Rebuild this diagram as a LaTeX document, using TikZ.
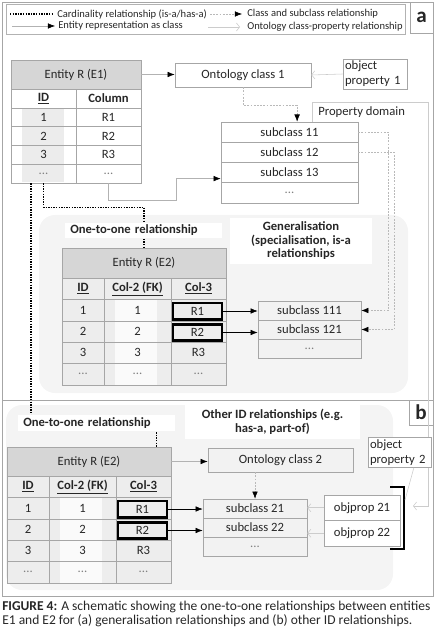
\documentclass[tikz,border=0pt]{standalone}
\usepackage{fontspec}
\setmainfont{Carlito}
\usetikzlibrary{arrows.meta}
\begin{document}
\begin{tikzpicture}[x=0.25mm,y=-0.25mm,font=\fontsize{9}{10.5}\selectfont,text=black!85,
  cl/.style={draw=gray!70,inner sep=0pt},
  hd/.style={draw=gray!70,fill=gray!32,inner sep=0pt},
  e1/.style={draw=gray!70,inner sep=0pt,minimum width=16.25mm,minimum height=4.7mm},
  ca/.style={draw=gray!70,inner sep=0pt,minimum width=10.5mm,minimum height=5.35mm},
  cb/.style={ca,minimum width=16.75mm},
  cc/.style={ca,minimum width=13.75mm},
  rk/.style={draw=black,line width=0.65mm,inner sep=0pt,minimum width=12.25mm,minimum height=4.1mm},
  lb/.style={fill=white,inner sep=0pt,font=\fontsize{9}{9.6}\selectfont\bfseries},
  lg/.style={anchor=west,inner sep=0pt,font=\fontsize{7.5}{9}\selectfont},
  cardln/.style={black,line width=0.35mm,dash pattern=on 0.35mm off 0.3mm},
  clsarr/.style={gray!55,dash pattern=on 0.45mm off 0.35mm,-{Latex[color=black,length=1.8mm,width=1.4mm]}},
  entarr/.style={gray!60,-{Latex[color=black,length=1.8mm,width=1.4mm]}},
  rarr/.style={black,-{Latex[length=1.8mm,width=1.4mm]}},
  proparr/.style={gray!40,-{Straight Barb[length=0.8mm,width=2mm]}}]
  \useasboundingbox (0,0) rectangle (436,632);
  % frames and legend
  \draw[gray!70] (2,2) rectangle (433,400);
  \draw[gray!70] (2,400) rectangle (433,596);
  \draw[gray!60] (6,4) rectangle (405,34);
  \draw[cardln] (10,14) -- (53,14);
  \node[lg] (lg1) at (57,14) {Cardinality relationship (is-a/has-a)};
  \draw[clsarr] (210,14) -- (242,14);
  \node[lg] (lg2) at (247,14) {Class and subclass relationship};
  \draw[entarr] (12,26) -- (55,26);
  \node[lg] (lg3) at (58,26) {Entity representation as class};
  \draw[proparr] (208,27) -- (240,27);
  \node[lg] (lg4) at (247,27) {Ontology class-property relationship};
  \node[draw=gray!70,minimum width=5.75mm,minimum height=7.75mm,inner sep=0pt,font=\fontsize{15}{15}\selectfont\bfseries] (pa) at (421.5,17.5) {a};
  \node[draw=gray!70,minimum width=6mm,minimum height=6.25mm,inner sep=0pt,font=\fontsize{15}{15}\selectfont\bfseries] (pb) at (421,412.5) {b};
  % shaded regions
  \fill[gray!9,rounded corners=4mm] (39,215) rectangle (408,393);
  \fill[gray!9,rounded corners=4mm] (6,405) rectangle (393,590);
  % panel a: entity E1
  \fill[gray!15] (22,108) rectangle (64,182);
  \node[hd,minimum width=32.5mm,minimum height=7.25mm] (e1h) at (76,74.5) {Entity R (E1)};
  \node[e1] (e1id) at (43.5,98.4) {\textbf{\underline{ID}}};
  \node[e1] (e1col) at (108.5,98.4) {\textbf{Column}};
  \node[e1] (e1a1) at (43.5,117.2) {1};
  \node[e1] (e1b1) at (108.5,117.2) {R1};
  \node[e1] (e1a2) at (43.5,136) {2};
  \node[e1] (e1b2) at (108.5,136) {R2};
  \node[e1] (e1a3) at (43.5,154.8) {3};
  \node[e1] (e1b3) at (108.5,154.8) {R3};
  \node[e1] (e1a4) at (43.5,173.6) {\color{gray}...};
  \node[e1] (e1b4) at (108.5,173.6) {\color{gray}...};
  % panel a: classes
  \node[cl,fill=white,minimum width=34mm,minimum height=6mm] (oc1) at (243,75) {Ontology class 1};
  \node[cl,fill=white,text width=15mm,inner sep=0.5mm,minimum height=7.5mm,align=left] (op1) at (375,74) {object\\property 1};
  \coordinate (pd) at (312,122);
  \coordinate (pde) at (413,506);
  \draw[proparr] (pd) |- (428,102) -- (428,506) -- (pde);
  \node[anchor=west,inner sep=0pt] (pdt) at (318,112) {Property domain};
  \node[cl,fill=white,minimum width=34.25mm,minimum height=5.06mm] (s11) at (289.5,132.1) {subclass 11};
  \node[cl,fill=white,minimum width=34.25mm,minimum height=5.06mm] (s12) at (289.5,152.4) {subclass 12};
  \node[cl,fill=white,minimum width=34.25mm,minimum height=5.06mm] (s13) at (289.5,172.6) {subclass 13};
  \node[cl,fill=white,minimum width=34.25mm,minimum height=5.06mm] (s14) at (289.5,192.9) {\color{gray}...};
  \draw[entarr] (e1h.east) -- (e1h.east -| oc1.west);
  \draw[proparr] (op1.west) -- (oc1.east);
  \draw[clsarr] (oc1.south) -- ++(0,18) -| ([xshift=1.9mm]s11.north);
  \draw[entarr] (e1b4.south) |- (176,200) |- ([yshift=-1.5mm]s13.west);
  % panel a: entity E2
  \fill[gray!14] (62,278) rectangle (226,385);
  \fill[gray!4] (115,299) rectangle (157,385);
  \node[hd,minimum width=41mm,minimum height=7.5mm] (e2h) at (144,263) {Entity R (E2)};
  \node[ca] (e2id) at (83,288.7) {\textbf{\underline{ID}}};
  \node[cb] (e2fk) at (137.5,288.7) {\textbf{\underline{Col-2 (FK)}}};
  \node[cc] (e2c3) at (198.5,288.7) {\textbf{\underline{Col-3}}};
  \node[ca] (e2a1) at (83,310.1) {1};
  \node[cb] (e2b1) at (137.5,310.1) {1};
  \node[cc] (e2c1) at (198.5,310.1) {};
  \node[ca] (e2a2) at (83,331.5) {2};
  \node[cb] (e2b2) at (137.5,331.5) {2};
  \node[cc] (e2c2) at (198.5,331.5) {};
  \node[ca] (e2a3) at (83,352.9) {3};
  \node[cb] (e2b3) at (137.5,352.9) {3};
  \node[cc] (e2c3r) at (198.5,352.9) {R3};
  \node[ca] (e2a4) at (83,374.3) {\color{gray}...};
  \node[cb] (e2b4) at (137.5,374.3) {\color{gray}...};
  \node[cc] (e2c4) at (198.5,374.3) {\color{gray}...};
  \node[rk] (r1a) at (197.5,311) {R1};
  \node[rk] (r2a) at (197.5,332.5) {R2};
  \node[cl,fill=gray!10,minimum width=25.75mm,minimum height=4.75mm] (s111) at (309.5,310.5) {subclass 111};
  \node[cl,fill=gray!10,minimum width=25.75mm,minimum height=4.75mm] (s121) at (309.5,329.5) {subclass 121};
  \node[cl,fill=gray!10,minimum width=25.75mm,minimum height=4.75mm] (s131) at (309.5,348.5) {\color{gray}...};
  \draw[rarr] (r1a.east) -- (r1a.east -| s111.west);
  \draw[rarr] (r2a.east) -- (r2a.east -| s121.west);
  \draw[clsarr] (s11.east) -- ++(30,0) |- (s111.east);
  \draw[clsarr] (s12.east) -- ++(36,0) |- (s121.east);
  \draw[cardln] (e1a4.south) -- ++(0,24) -| (e2h.north);
  \node[lb,anchor=west,inner xsep=1.25mm,minimum height=3.9mm,text width=36.75mm] (oto1) at (65,230.5) {One-to-one relationship};
  \node[lb,minimum width=35.5mm,minimum height=11.5mm,align=center] (gen) at (301,241) {Generalisation\\(specialisation, is-a\\relationships};
  % panel b
  \fill[gray!14] (7,476) rectangle (171,583);
  \fill[gray!4] (60,497) rectangle (102,583);
  \node[hd,minimum width=41mm,minimum height=7.25mm] (e2bh) at (89,461.5) {Entity R (E2)};
  \draw[cardln] ([xshift=-3.1mm]e1a4.south) -- ++(0,235) -| ([xshift=16.9mm]e2bh.north);
  \node[lb,anchor=west,inner xsep=1.25mm,minimum height=4mm,text width=36.75mm] (oto2) at (18,423) {One-to-one relationship};
  \node[lb,minimum width=43.75mm,minimum height=8.5mm,align=center] (oid) at (272.5,422) {Other ID relationships (e.g.\\has-a, part-of)};
  \node[ca] (fid) at (28,486.7) {\textbf{\underline{ID}}};
  \node[cb] (ffk) at (82.5,486.7) {\textbf{\underline{Col-2 (FK)}}};
  \node[cc] (fc3) at (143.5,486.7) {\textbf{\underline{Col-3}}};
  \node[ca] (fa1) at (28,508.1) {1};
  \node[cb] (fb1) at (82.5,508.1) {1};
  \node[cc] (fc1) at (143.5,508.1) {};
  \node[ca] (fa2) at (28,529.5) {2};
  \node[cb] (fb2) at (82.5,529.5) {2};
  \node[cc] (fc2) at (143.5,529.5) {};
  \node[ca] (fa3) at (28,550.9) {3};
  \node[cb] (fb3) at (82.5,550.9) {3};
  \node[cc] (fc3r) at (143.5,550.9) {R3};
  \node[ca] (fa4) at (28,572.3) {\color{gray}...};
  \node[cb] (fb4) at (82.5,572.3) {\color{gray}...};
  \node[cc] (fc4) at (143.5,572.3) {\color{gray}...};
  \node[rk] (r1b) at (142.5,509) {R1};
  \node[rk] (r2b) at (142.5,530.5) {R2};
  \node[cl,fill=gray!10,minimum width=36.25mm,minimum height=6mm] (oc2) at (280.5,460) {Ontology class 2};
  \node[cl,fill=gray!10,minimum width=26mm,minimum height=4.75mm] (s21) at (255,508.5) {subclass 21};
  \node[cl,fill=gray!10,minimum width=26mm,minimum height=4.75mm] (s22) at (255,527.5) {subclass 22};
  \node[cl,fill=gray!10,minimum width=26mm,minimum height=4.75mm] (s23) at (255,546.5) {\color{gray}...};
  \node[cl,fill=white,minimum width=19mm,minimum height=6.375mm] (op21) at (362,507.75) {objprop 21};
  \node[cl,fill=white,minimum width=19mm,minimum height=6.375mm] (op22) at (362,533.25) {objprop 22};
  \node[cl,fill=white,text width=14.75mm,inner sep=0.5mm,minimum height=7.25mm,align=left] (op2) at (399.5,452.5) {object\\property 2};
  \coordinate (bka) at (390,487);
  \coordinate (bkb) at (404,487);
  \coordinate (bkc) at (404,549);
  \coordinate (bkd) at (390,549);
  \coordinate (bkr) at (405,500);
  \draw[black,line width=0.6mm] (bka) -- (bkb) -- (bkc) -- (bkd);
  \draw[gray!40] ([xshift=3.6mm]op2.south) -- (bkr);
  \draw[entarr] (e2bh.east) -- (e2bh.east -| oc2.west);
  \draw[clsarr] (s21.north |- oc2.south) -- (s21.north);
  \draw[rarr] (r1b.east) -- (r1b.east -| s21.west);
  \draw[rarr] (r2b.east) -- (r2b.east -| s22.west);
  \draw[proparr] (op21.west) -- (op21.west -| s21.east);
  \draw[proparr] (op22.west) -- (op22.west -| s22.east);
  % caption
  \node[anchor=north west,inner sep=0pt,align=left,font=\fontsize{9.6}{10}\selectfont] (cap) at (2,601) {\textbf{FIGURE 4:} A schematic showing the one-to-one relationships between entities\\E1 and E2 for (a) generalisation relationships and (b) other ID relationships.};
\end{tikzpicture}
\end{document}
